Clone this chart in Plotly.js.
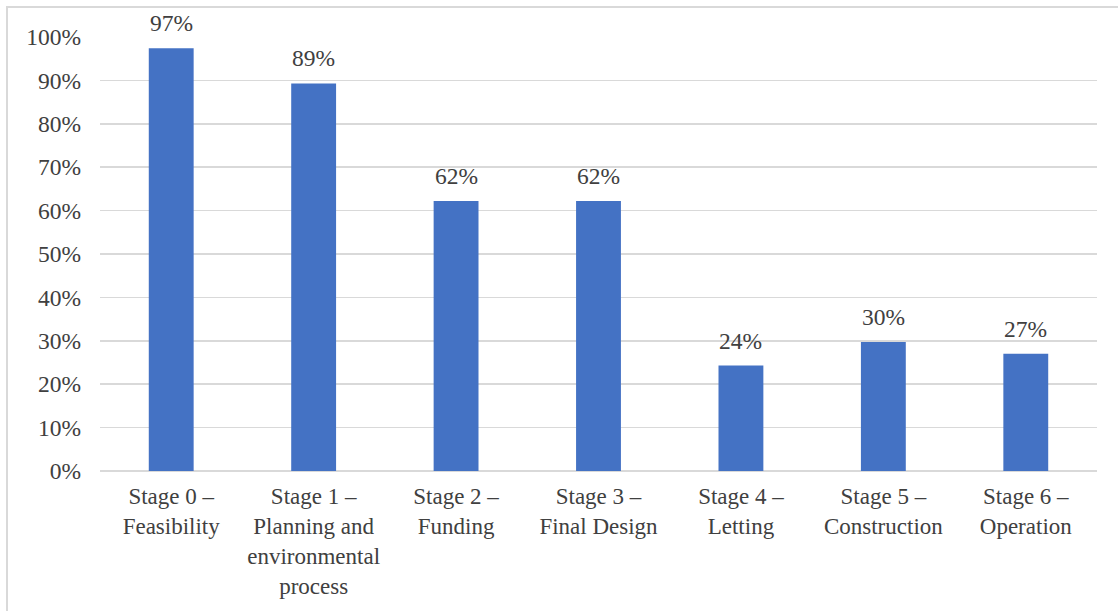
<!DOCTYPE html>
<html>
<head>
<meta charset="utf-8">
<script src="https://cdn.plot.ly/plotly-3.0.1.min.js"></script>
<style>
html,body{margin:0;padding:0;background:#fff;overflow:hidden;}
#frame{position:absolute;left:6px;top:6px;width:1200px;height:700px;border:2px solid #d9d9d9;box-sizing:border-box;pointer-events:none;z-index:5;}
#chart{position:absolute;left:0;top:0;width:1118px;height:611px;}
</style>
</head>
<body>
<div id="chart"></div>
<div id="frame"></div>
<script>
const categories = [
  "Stage 0 –<br>Feasibility",
  "Stage 1 –<br>Planning and<br>environmental<br>process",
  "Stage 2 –<br>Funding",
  "Stage 3 –<br>Final Design",
  "Stage 4 –<br>Letting",
  "Stage 5 –<br>Construction",
  "Stage 6 –<br>Operation"
];
const shares = [0.974, 0.893, 0.622, 0.622, 0.243, 0.297, 0.270];
const barLabels = ["97%", "89%", "62%", "62%", "24%", "30%", "27%"];
const yTickVals = [0, 0.1, 0.2, 0.3, 0.4, 0.5, 0.6, 0.7, 0.8, 0.9, 1.0];
const yTickText = ["0%", "10%", "20%", "30%", "40%", "50%", "60%", "70%", "80%", "90%", "100%"];

const fam = "Liberation Serif";
const yFont = {family: fam, size: 23.5, color: "#404040"};
const xFont = {family: fam, size: 23, color: "#404040"};

const annotations = categories.map((c, i) => ({
  x: c, y: shares[i], xref: "x", yref: "y",
  text: barLabels[i], showarrow: false,
  yanchor: "bottom", yshift: 10,
  font: {family: fam, size: 23.5, color: "#404040"}
}));

Plotly.newPlot("chart", [{
  type: "bar",
  x: categories,
  y: shares,
  marker: {color: "#4472C4"},
  hoverinfo: "skip"
}], {
  width: 1118,
  height: 611,
  margin: {l: 100, r: 21, t: 37, b: 140},
  paper_bgcolor: "#ffffff",
  plot_bgcolor: "#ffffff",
  bargap: 0.685,
  showlegend: false,
  font: yFont,
  annotations: annotations,
  xaxis: {
    type: "category",
    tickfont: xFont,
    showgrid: false,
    showline: false,
    zeroline: false,
    ticks: "",
    ticklen: 0,
    ticklabelstandoff: 9,
    automargin: false
  },
  yaxis: {
    range: [0, 1.0],
    tickvals: yTickVals,
    ticktext: yTickText,
    tickfont: yFont,
    showgrid: true,
    gridcolor: "#d9d9d9",
    gridwidth: 1.5,
    zeroline: true,
    zerolinecolor: "#d9d9d9",
    zerolinewidth: 1.5,
    showline: false,
    ticks: "",
    ticklabelstandoff: 18,
    automargin: false
  }
}, {displayModeBar: false, staticPlot: true});
</script>
</body>
</html>
